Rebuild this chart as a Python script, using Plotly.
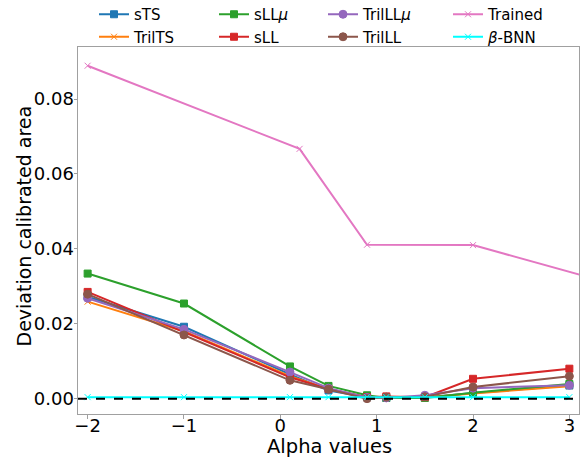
import plotly.graph_objects as go

alpha = [-2, -1, 0.1, 0.5, 0.9, 1.1, 1.5, 2, 3]
alpha_trained = [-2, 0.2, 0.9, 2, 4]

sTS = [0.0272, 0.0192, 0.0065, 0.0022, 0.0004, 0.0002, 0.0003, 0.0015, 0.0035]
TrilTS = [0.0259, 0.0180, 0.0060, 0.0026, 0.0003, 0.0002, 0.0003, 0.0014, 0.0033]
sLLmu = [0.0334, 0.0254, 0.0086, 0.0034, 0.0009, 0.0002, 0.0002, 0.0016, 0.0039]
sLL = [0.0285, 0.0178, 0.0057, 0.0026, 0.0004, 0.0006, 0.0004, 0.0053, 0.0080]
TrilLLmu = [0.0268, 0.0185, 0.0071, 0.0028, 0.0003, 0.0002, 0.0009, 0.0028, 0.0036]
TrilLL = [0.0279, 0.0170, 0.0049, 0.0025, 0.0000, 0.0004, 0.0005, 0.0031, 0.0060]
Trained = [0.0889, 0.0667, 0.0411, 0.0410, 0.0267]
bBNN = [0.0004, 0.0004, 0.0004, 0.0004, 0.0004, 0.0004, 0.0004, 0.0004, 0.0004]

series = [
    ("sTS", alpha, sTS, "#1f77b4", "square", 7, "legend"),
    ("TrilTS", alpha, TrilTS, "#ff7f0e", "x-thin", 6, "legend"),
    ("sLL<i>μ</i>", alpha, sLLmu, "#2ca02c", "square", 7, "legend2"),
    ("sLL", alpha, sLL, "#d62728", "square", 7, "legend2"),
    ("TrilLL<i>μ</i>", alpha, TrilLLmu, "#9467bd", "circle", 8, "legend3"),
    ("TrilLL", alpha, TrilLL, "#8c564b", "circle", 8, "legend3"),
    ("Trained", alpha_trained, Trained, "#e377c2", "x-thin", 6, "legend4"),
    ("<i>β</i>-BNN", alpha, bBNN, "#00ffff", "x-thin", 6, "legend4"),
]

fig = go.Figure()
for name, xs, ys, col, sym, sz, lg in series:
    fig.add_trace(go.Scatter(
        x=xs, y=ys, name=name, mode="lines+markers",
        line=dict(color=col, width=2),
        marker=dict(symbol=sym, size=sz, color=col, line=dict(color=col, width=1)),
        legend=lg,
    ))

fig.add_hline(y=0, line=dict(color="black", width=2, dash="dash"))

font = "DejaVu Sans"
L, R, T, B = 78, 5, 47, 44
W, H = 584, 458
pw = W - L - R
ph = H - T - B

def lx(px):
    return (px - L) / pw

def ly(py):
    return (H - B - py) / ph

leg_common = dict(orientation="v", xanchor="left", yanchor="top",
                  font=dict(family=font, size=15, color="black"),
                  bgcolor="rgba(0,0,0,0)", borderwidth=0, itemwidth=30,
                  tracegroupgap=0)
text_starts = [134, 254, 363, 488]
fig.update_layout(
    width=W, height=H,
    margin=dict(l=L, r=R, t=T, b=B, autoexpand=False),
    plot_bgcolor="white", paper_bgcolor="white",
    showlegend=True,
    legend=dict(x=lx(text_starts[0] - 40), y=ly(-2), **leg_common),
    legend2=dict(x=lx(text_starts[1] - 40), y=ly(-2), **leg_common),
    legend3=dict(x=lx(text_starts[2] - 40), y=ly(-2), **leg_common),
    legend4=dict(x=lx(text_starts[3] - 40), y=ly(-2), **leg_common),
    font=dict(family=font, color="black"),
    annotations=[
        dict(text="Alpha values", x=lx(329), y=ly(446), xref="paper", yref="paper",
             xanchor="center", yanchor="middle", showarrow=False,
             font=dict(family=font, size=19.5, color="black")),
        dict(text="Deviation calibrated area", x=lx(24), y=ly(226.5), xref="paper", yref="paper",
             xanchor="center", yanchor="middle", showarrow=False, textangle=-90,
             font=dict(family=font, size=19, color="black")),
    ],
)
fig.update_xaxes(
    range=[-2.1, 3.1], tickvals=[-2, -1, 0, 1, 2, 3],
    ticktext=["\u22122", "\u22121", "0", "1", "2", "3"],
    showgrid=False, zeroline=False, showline=True, mirror=True,
    linecolor="#a0a0a0", linewidth=1, ticks="outside", ticklen=3.5, tickcolor="#a0a0a0",
    tickfont=dict(family=font, size=18, color="black"), ticklabelstandoff=-8,
)
fig.update_yaxes(
    range=[-0.0041, 0.0939], tickvals=[0, 0.02, 0.04, 0.06, 0.08],
    ticktext=["0.00", "0.02", "0.04", "0.06", "0.08"],
    showgrid=False, zeroline=False, showline=True, mirror=True,
    linecolor="#a0a0a0", linewidth=1, ticks="outside", ticklen=3.5, tickcolor="#a0a0a0",
    tickfont=dict(family=font, size=18, color="black"), ticklabelstandoff=-4,
)

fig.write_html("out.html", config={"displayModeBar": False},
               post_script="document.body.style.margin='0px';")
